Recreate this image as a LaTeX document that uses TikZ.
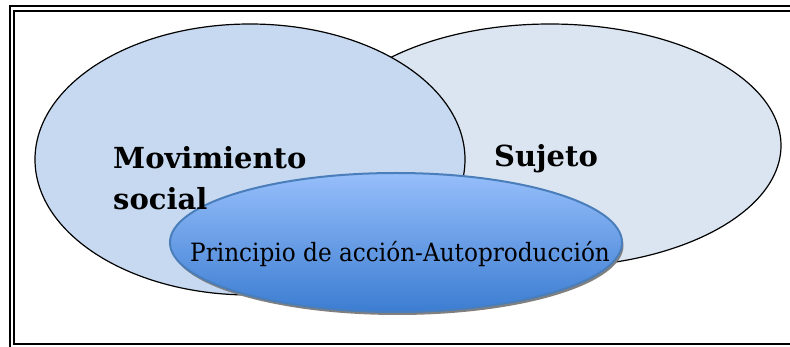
\documentclass[tikz,border=0pt]{standalone}
\usepackage{fontspec}
\setmainfont{DejaVu Serif}
\newfontfamily\labelfont[FakeStretch=0.92]{DejaVu Serif}
\usetikzlibrary{shapes.geometric,shadows}
\definecolor{leftfill}{RGB}{198,217,240}
\definecolor{rightfill}{RGB}{219,229,241}
\definecolor{topblue}{RGB}{150,190,250}
\definecolor{botblue}{RGB}{60,125,210}
\definecolor{rimblue}{RGB}{74,126,187}
\tikzset{
  frameline/.style={line width=2pt, black},
  bigoval/.style={ellipse, draw=black, line width=1.2pt, inner sep=0pt, outer sep=0pt},
  boldlabel/.style={anchor=base west, inner sep=0pt, font=\fontsize{29}{35}\selectfont\bfseries},
  plainlabel/.style={anchor=base west, inner sep=0pt, font=\fontsize{25.2}{30}\labelfont}
}
\begin{document}
\begin{tikzpicture}[x=1pt,y=-1pt]
\useasboundingbox (0,0) rectangle (790,347);
% frame
\draw[frameline] (790,5.8) -- (9.8,5.8) -- (9.8,347);
\draw[frameline] (790,11) -- (14.3,11) -- (14.3,344.3) -- (790,344.3);
% ellipses
\node[bigoval, fill=rightfill, minimum width=462pt, minimum height=243pt] (sujeto) at (550,145.5) {};
\node[bigoval, fill=leftfill, minimum width=430pt, minimum height=271pt] (mov) at (250,159.5) {};
\node[ellipse, inner sep=0pt, outer sep=0pt, minimum width=452pt, minimum height=139pt,
      top color=topblue, bottom color=botblue, draw=rimblue, line width=2pt,
      drop shadow={shadow xshift=1.5pt, shadow yshift=-3pt, fill=black!50, opacity=1}] (princ) at (396,242.5) {};
% labels
\node[boldlabel] (movtxt) at (113,168.3) {Movimiento};
\node[boldlabel] (soctxt) at (113,210) {social};
\node[boldlabel] (sujtxt) at (494,167) {Sujeto};
\node[plainlabel] (prtxt) at (190,261.7) {Principio de acción-Autoproducción};
\end{tikzpicture}
\end{document}
